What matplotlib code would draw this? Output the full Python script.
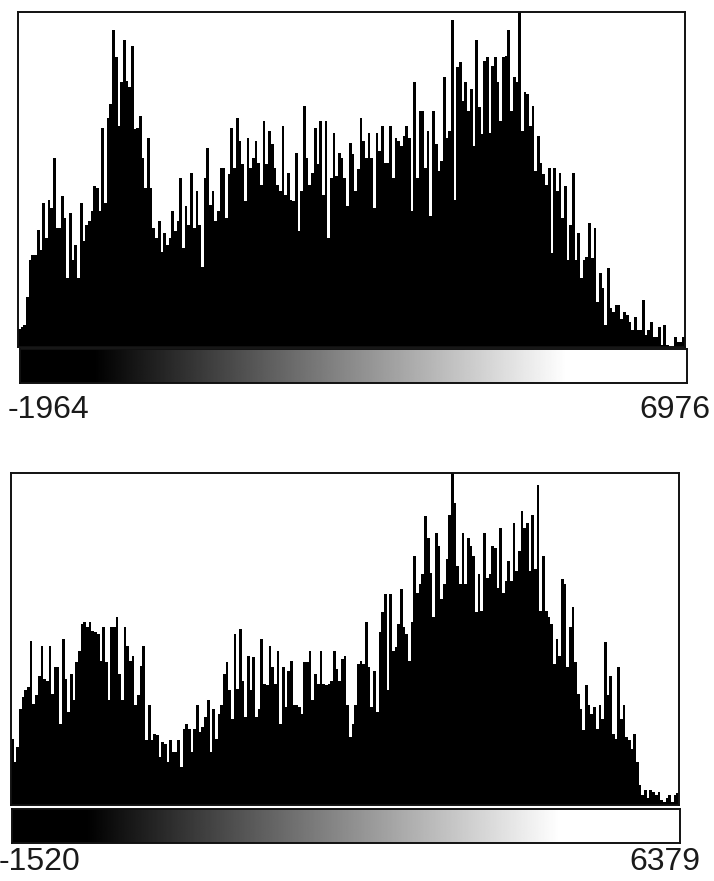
import matplotlib.pyplot as plt
import numpy as np

# Bin heights (percent of the frame height).
# Values above 100 are the clipped mode bins.
top_counts = [
    5.5, 6, 6.5, 15, 26, 27.5, 27.5, 35, 29, 43,
    32.5, 44, 41.5, 56.5, 35.5, 35.5, 45, 38.5, 20.5, 40,
    26, 30.5, 20.5, 43, 31.5, 36.5, 37.5, 40.5, 48, 47.5,
    40.5, 65.5, 43, 68.5, 72.5, 94.5, 86.5, 66, 79, 91.5,
    79.5, 77.5, 90, 65, 65.5, 69, 56.5, 47.5, 62.5, 47.5,
    35.5, 32.5, 37.5, 28.5, 34, 30.5, 32.5, 40.5, 34.5, 37.5,
    50.5, 29.5, 42, 36.5, 52, 35.5, 46.5, 36.5, 24, 50.5,
    59.5, 42.5, 46.5, 37.5, 40.5, 53.5, 53.5, 38.5, 51.5, 65.5,
    53.5, 68.5, 61.5, 54.5, 43.5, 62.5, 53.5, 56.5,
    61.5, 55, 48.5, 67.5, 54.5, 64.5, 60.5, 53.5, 48.5, 46.5,
    66, 45.5, 52, 44, 43.5, 58, 34.5, 46.5, 72, 56.5,
    48.5, 52, 65.5, 54.5, 67.5, 45.5, 67.5, 32.5, 50.5, 64,
    51, 58, 56.5, 50.5, 42, 61, 57.5, 46.5, 53, 68.5,
    61.5, 56.5, 64, 56.5, 41.5, 64, 58.5, 66, 55, 55,
    66, 50.5, 62.5, 61.5, 60, 63, 66, 62.5, 40.5, 79,
    50.5, 70.5, 70.5, 53.5, 64.5, 39, 70.5, 60.5, 52.5, 55.5,
    80.5, 62.5, 64.5, 97.5, 44, 83.5, 85, 73.5, 79, 70.5,
    77, 60, 91.5, 71.5, 63.5, 85.5, 86.5, 64,
    84, 86.5, 79, 67.5, 86.5, 87, 94.5, 70.5, 80.5, 79,
    110, 64.5, 76, 75.5, 66, 72, 52.5, 63, 55, 51.5,
    48.5, 53.5, 28, 53.5, 46.5, 52, 38.5, 48, 26, 36.5,
    52, 26, 34, 20.5, 26, 27, 37, 26.5, 35.5, 13.5,
    22, 17.5, 6.5, 23.5, 11.5, 10.5, 12.5, 12.5, 8.5, 10.5,
    9.5, 7.5, 5, 9, 5, 5, 14, 3.5, 5, 7.5,
    3, 3, 6, 0.5, 6.5, 0.5, 0, 0, 3, 1.5,
    1.5, 3,
]

bottom_counts = [
    20, 13, 17.5, 29, 32.5, 34.5, 35.5, 49.5, 30.5, 33,
    39, 48, 38, 37.5, 48, 33.5, 41.5, 41.5, 24.5, 50,
    38, 28, 39.5, 31.5, 43, 46.5, 54.5, 55, 53.5, 55,
    52.5, 52, 51.5, 43.5, 53.5, 43, 31.5, 53.5, 53.5, 56.5,
    39.5, 31.5, 53.5, 48, 43.5, 45, 30, 33, 42, 48,
    19.5, 30, 19.5, 21.5, 21, 14.5, 19, 18.5, 13, 19.5,
    16, 16, 19.5, 11.5, 23, 24.5, 23, 16, 23, 30,
    22, 23.5, 26.5, 31.5, 16, 29, 20, 27.5, 30, 39.5,
    43, 34.5, 26, 51.5, 35, 53, 37.5, 26.5,
    45, 34.5, 44.5, 26.5, 29, 50, 36.5, 36, 48, 41.5,
    36.5, 46.5, 24.5, 41.5, 29.5, 40.5, 43.5, 30, 30, 29.5,
    27.5, 43, 43, 46.5, 31.5, 39.5, 36.5, 46.5, 36.5, 36,
    36.5, 37.5, 46.5, 41, 37.5, 44, 45, 30, 20.5, 24.5,
    30, 42.5, 43.5, 42.5, 55, 41.5, 29.5, 40.5, 28, 52,
    58, 63.5, 34.5, 63.5, 46.5, 47.5, 54.5, 65, 53.5, 51.5,
    43.5, 55, 75, 64, 66.5, 69.5, 87, 80.5, 70, 56.5,
    82, 78, 62, 66.5, 74, 87.5, 110, 91, 72, 66.5,
    82, 66.5, 80.5, 78, 75, 58, 69.5, 58.5,
    82, 68.5, 69.5, 78, 77.5, 65.5, 83.5, 64, 67.5, 73.5,
    67.5, 85, 70.5, 76.5, 88.5, 83.5, 85, 70.5, 87.5, 71,
    96.5, 58.5, 75, 58.5, 56.5, 54.5, 42.5, 50, 45, 68,
    66.5, 41.5, 53.5, 59.5, 43, 33.5, 29, 22.5, 36, 30,
    27.5, 29.5, 23, 30, 26, 49, 33, 39, 21.5, 20,
    41.5, 26, 30, 20.5, 19.5, 17, 21.5, 13, 6, 3,
    4.5, 2, 4.5, 4, 3, 4, 1.5, 1, 2, 3,
    1, 3, 3.5,
]

top_range = ["-1964", "6976"]
bottom_range = ["-1520", "6379"]

W, H = 714, 881


def px_axes(fig, x0, y0, x1, y1):
    """Add axes from pixel box (top-left origin)."""
    return fig.add_axes([x0 / W, 1 - y1 / H, (x1 - x0) / W, (y1 - y0) / H])


def frame(ax):
    ax.set_xticks([])
    ax.set_yticks([])
    for s in ax.spines.values():
        s.set_color('#111111')
        s.set_linewidth(1.4)


def draw_panel(fig, counts, labels, hist_box, bar_box, lab_y, lab_x):
    # Histogram.
    ax = px_axes(fig, *hist_box)
    ax.bar(np.arange(len(counts)), counts, width=1.0, align='edge',
           color='black', linewidth=0)
    ax.set_xlim(0, len(counts))
    ax.set_ylim(0, 100)
    frame(ax)

    # Grey ramp (black before display min, white after display max).
    cb = px_axes(fig, *bar_box)
    t = np.linspace(0, 1, 600)
    ramp = np.clip((t - 0.11) / (0.82 - 0.11), 0, 1)
    cb.imshow(ramp[np.newaxis, :], cmap='gray', aspect='auto',
              vmin=0, vmax=1, extent=[0, 1, 0, 1])
    frame(cb)

    # Min / max labels.
    fig.text(lab_x[0] / W, 1 - lab_y / H, labels[0], ha='left', va='center',
             fontsize=23, family='Liberation Sans', color='#1a1a1a')
    fig.text(lab_x[1] / W, 1 - lab_y / H, labels[1], ha='right', va='center',
             fontsize=23, family='Liberation Sans', color='#1a1a1a')


fig = plt.figure(figsize=(W / 100, H / 100), dpi=100)

draw_panel(fig, top_counts, top_range,
           (18, 12, 685, 347), (20, 349, 687, 383), 410, (8, 710))
draw_panel(fig, bottom_counts, bottom_range,
           (11, 473, 679, 805), (12, 809, 680, 843), 862, (-1, 700))

fig.savefig('out.png', dpi=100)
